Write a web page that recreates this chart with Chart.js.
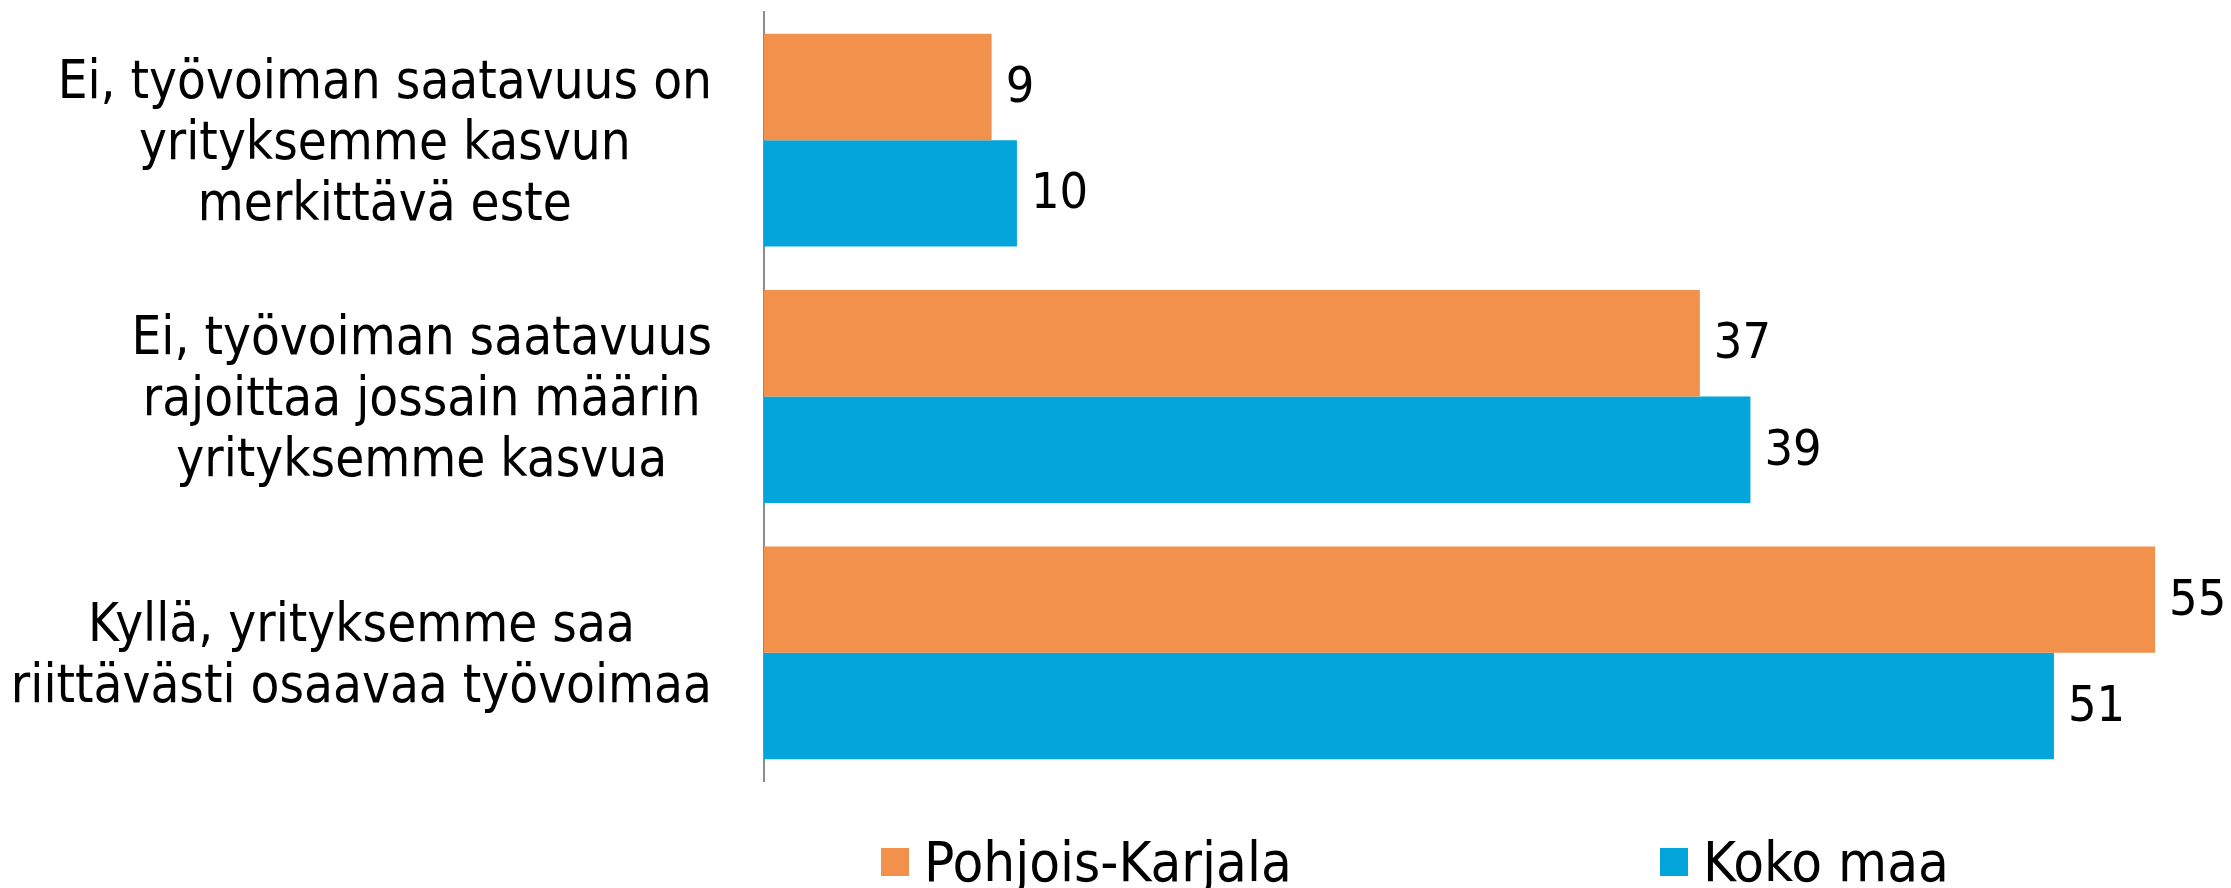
<!DOCTYPE html>
<html>
<head>
<meta charset="utf-8">
<script src="https://cdn.jsdelivr.net/npm/chart.js@4"></script>
<style>
  html, body { margin: 0; padding: 0; background: #fff; }
  #wrap { width: 2231px; height: 888px; }
</style>
</head>
<body>
<div id="wrap"><canvas id="bar-chart"></canvas></div>
<script>
// data
const categories = [
  ['Ei, työvoiman saatavuus on', 'yrityksemme kasvun', 'merkittävä este'],
  ['Ei, työvoiman saatavuus', 'rajoittaa jossain määrin', 'yrityksemme kasvua'],
  ['Kyllä, yrityksemme saa', 'riittävästi osaavaa työvoimaa']
];
const seriesNames = ['Pohjois-Karjala', 'Koko maa'];
const pohjoisKarjala = [9, 37, 55];
const kokoMaa = [10, 39, 51];

const ORANGE = '#F2914B';
const BLUE = '#03A5DA';
const FONT = '"DejaVu Sans Condensed", "DejaVu Sans", sans-serif';

// labels, values and legend drawn on the canvas
const textPlugin = {
  id: 'textPlugin',
  afterDraw(chart) {
    const ctx = chart.ctx;
    const yScale = chart.scales.y;
    const area = chart.chartArea;
    ctx.save();
    ctx.fillStyle = '#000';
    ctx.textBaseline = 'middle';

    // category labels: lines centred on each other, block right aligned
    ctx.font = '52.5px ' + FONT;
    ctx.textAlign = 'center';
    const right = area.left - 52;
    const lineH = 61;
    categories.forEach((lines, i) => {
      const yc = yScale.getPixelForValue(i) + 5;
      const maxW = Math.max(...lines.map(l => ctx.measureText(l).width));
      const cx = right - maxW / 2;
      const y0 = yc - (lines.length - 1) * lineH / 2;
      lines.forEach((l, j) => ctx.fillText(l, cx, y0 + j * lineH));
    });

    // value labels
    ctx.font = '50px ' + FONT;
    ctx.textAlign = 'left';
    chart.data.datasets.forEach((ds, di) => {
      chart.getDatasetMeta(di).data.forEach((bar, i) => {
        ctx.fillText(String(ds.data[i]), bar.x + 14, bar.y + 2);
      });
    });

    // legend
    ctx.font = '56px ' + FONT;
    const legendY = 862;
    const items = [[881, ORANGE], [1660, BLUE]];
    items.forEach(([x, col], i) => {
      ctx.fillStyle = col;
      ctx.fillRect(x, legendY - 14, 28, 28);
      ctx.fillStyle = '#000';
      ctx.fillText(seriesNames[i], x + 43, legendY + 4);
    });
    ctx.restore();
  }
};

new Chart(document.getElementById('bar-chart'), {
  type: 'bar',
  data: {
    labels: categories,
    datasets: [
      { label: seriesNames[0], data: pohjoisKarjala, backgroundColor: ORANGE },
      { label: seriesNames[1], data: kokoMaa, backgroundColor: BLUE }
    ]
  },
  options: {
    indexAxis: 'y',
    responsive: true,
    maintainAspectRatio: false,
    animation: false,
    categoryPercentage: 0.83,
    barPercentage: 1.0,
    layout: { padding: { left: 764, top: 12, right: 0, bottom: 107 } },
    scales: {
      x: { display: false, min: 0, max: 58 },
      y: {
        ticks: { display: false },
        grid: { display: false, drawTicks: false },
        border: { display: true, color: '#8c8c8c', width: 2 }
      }
    },
    plugins: {
      legend: { display: false },
      tooltip: { enabled: false }
    }
  },
  plugins: [textPlugin]
});
</script>
</body>
</html>
